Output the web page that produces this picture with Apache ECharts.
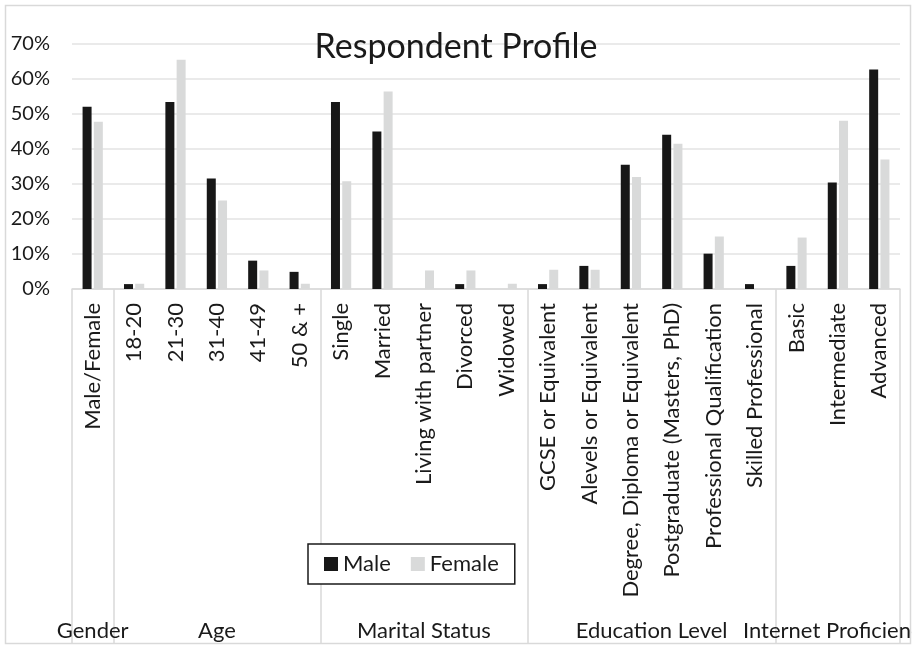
<!DOCTYPE html>
<html>
<head>
<meta charset="utf-8">
<script src="https://cdn.jsdelivr.net/npm/echarts/dist/echarts.min.js"></script>
<style>
html, body { margin: 0; padding: 0; background: #fff; }
#chart { width: 912px; height: 645px; }
</style>
</head>
<body>
<div id="chart"></div>
<script>
const categories = ['Male/Female', '18-20', '21-30', '31-40', '41-49', '50 & +',
  'Single', 'Married', 'Living with partner', 'Divorced', 'Widowed',
  'GCSE or Equivalent', 'Alevels or Equivalent', 'Degree, Diploma or Equivalent',
  'Postgraduate (Masters, PhD)', 'Professional Qualification', 'Skilled Professional',
  'Basic', 'Intermediate', 'Advanced'];
const maleValues = [52.1, 1.4, 53.4, 31.6, 8.1, 4.9, 53.4, 45.0, 0, 1.4, 0,
  1.4, 6.6, 35.5, 44.1, 10.1, 1.4, 6.6, 30.4, 62.7];
const femaleValues = [47.8, 1.5, 65.5, 25.3, 5.3, 1.5, 30.8, 56.4, 5.3, 5.3, 1.5,
  5.5, 5.5, 32.0, 41.5, 15.0, 0, 14.7, 48.1, 37.0];
const groupNames = ['Gender', 'Age', 'Marital Status', 'Education Level', 'Internet Proficiency'];
const groupSizes = [1, 5, 5, 6, 3];
const yTicks = [0, 10, 20, 30, 40, 50, 60, 70];

// group boundaries and centres in category units
const boundaries = [0];
groupSizes.forEach(s => boundaries.push(boundaries[boundaries.length - 1] + s));
const centres = groupSizes.map((s, i) => boundaries[i] + s / 2);
const centreName = {};
centres.forEach((c, i) => { centreName[c] = groupNames[i]; });

const FONT = 'Lato';
const chart = echarts.init(document.getElementById('chart'));
chart.setOption({
  animation: false,
  backgroundColor: '#fff',
  title: {
    text: 'Respondent Profile',
    left: 'center',
    top: 25,
    textStyle: { fontFamily: FONT, fontSize: 34, fontWeight: 'normal', color: '#1a1a1a' }
  },
  legend: {
    data: ['Male', 'Female'],
    left: 308,
    top: 544,
    padding: [9, 16],
    itemWidth: 14,
    itemHeight: 14,
    itemGap: 20,
    icon: 'rect',
    borderColor: '#1a1a1a',
    borderWidth: 1.5,
    backgroundColor: '#fff',
    textStyle: { fontFamily: FONT, fontSize: 22, color: '#1a1a1a' }
  },
  grid: { left: 72, right: 12, top: 44, bottom: 356, containLabel: false, outerBoundsMode: 'none' },
  xAxis: [{
    type: 'category',
    data: categories,
    boundaryGap: true,
    axisLine: { lineStyle: { color: '#d9d9d9', width: 1.5 } },
    axisTick: { show: false },
    axisLabel: {
      rotate: 90,
      interval: 0,
      margin: 14,
      fontFamily: FONT,
      fontSize: 22,
      color: '#1a1a1a'
    }
  }, {
    type: 'value',
    min: 0,
    max: boundaries[boundaries.length - 1],
    position: 'bottom',
    axisLine: { show: false },
    splitLine: { show: false },
    axisTick: {
      show: true,
      customValues: boundaries,
      length: 354,
      lineStyle: { color: '#d9d9d9', width: 1.5 }
    },
    axisLabel: {
      customValues: centres,
      margin: 331,
      fontFamily: FONT,
      fontSize: 22,
      color: '#1a1a1a',
      formatter: v => centreName[v] || ''
    }
  }],
  yAxis: {
    type: 'value',
    min: yTicks[0],
    max: yTicks[yTicks.length - 1],
    interval: 10,
    axisLine: { show: false },
    axisTick: { show: false },
    splitLine: { lineStyle: { color: '#e3e3e3', width: 1.5 } },
    axisLabel: {
      margin: 22,
      fontFamily: FONT,
      fontSize: 20,
      color: '#1a1a1a',
      formatter: v => v + '%'
    }
  },
  series: [{
    name: 'Male',
    type: 'bar',
    xAxisIndex: 0,
    data: maleValues,
    barWidth: 9,
    barGap: '25%',
    itemStyle: { color: '#171717' }
  }, {
    name: 'Female',
    type: 'bar',
    xAxisIndex: 0,
    data: femaleValues,
    barWidth: 9,
    barGap: '25%',
    itemStyle: { color: '#d9dada' }
  }],
  graphic: [{
    type: 'rect',
    z: -1,
    shape: { x: 5.5, y: 5.5, width: 905, height: 638 },
    style: { fill: null, stroke: '#d9d9d9', lineWidth: 1.5 }
  }]
});
</script>
</body>
</html>
